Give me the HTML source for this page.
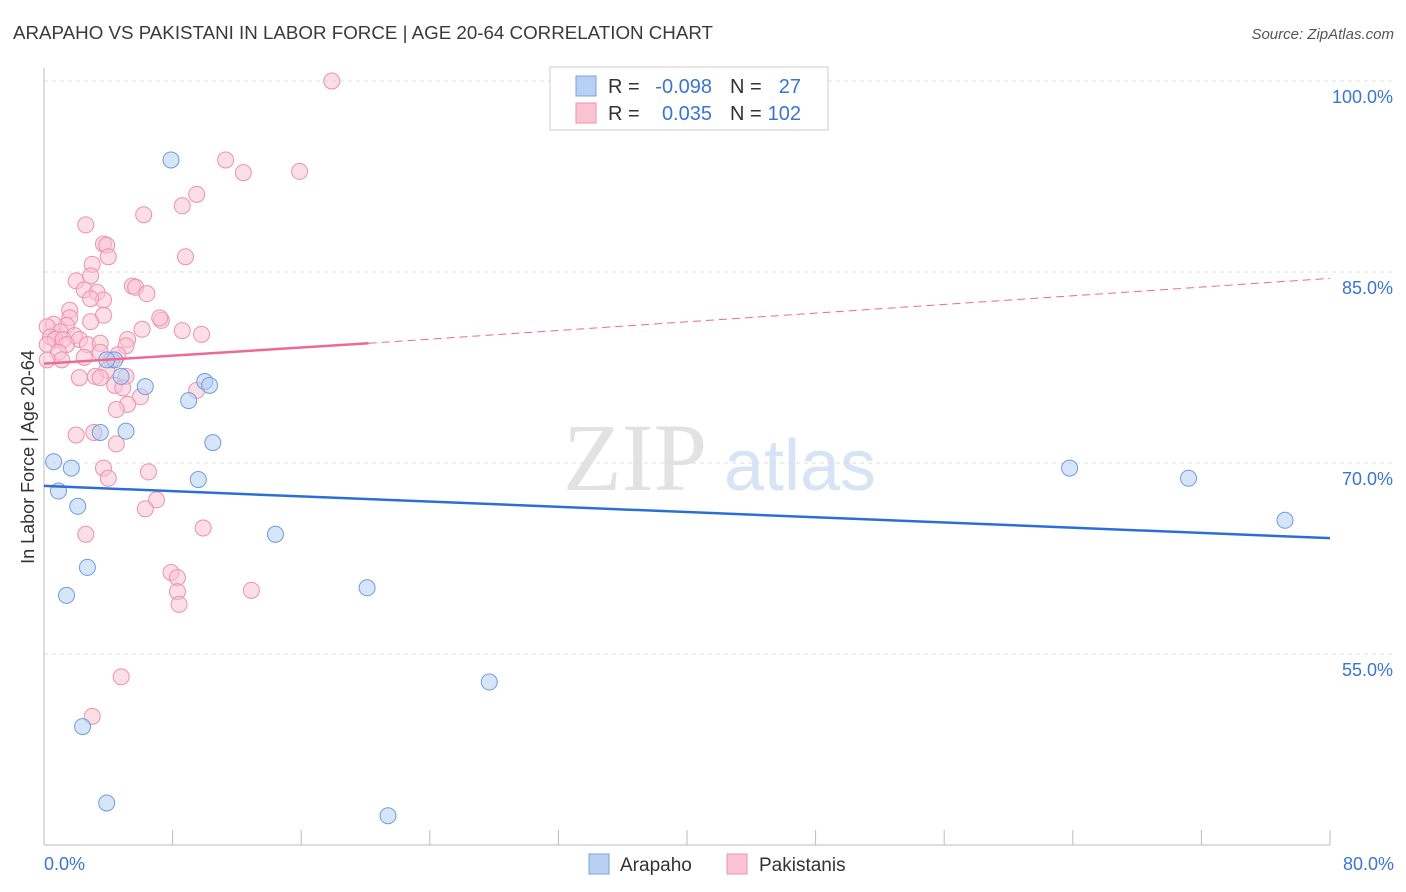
<!DOCTYPE html>
<html><head><meta charset="utf-8"><style>
body{margin:0;background:#fff;font-family:"Liberation Sans",sans-serif;}
svg{display:block}
</style></head><body>
<svg id="chart" width="1406" height="892" xmlns="http://www.w3.org/2000/svg">
<text x="13" y="39" font-size="18" fill="#3a3a3a" textLength="700" lengthAdjust="spacingAndGlyphs">ARAPAHO VS PAKISTANI IN LABOR FORCE | AGE 20-64 CORRELATION CHART</text>
<text x="1394" y="39" font-size="15" fill="#555" font-style="italic" text-anchor="end">Source: ZipAtlas.com</text>
<g>
<text x="635" y="490" font-size="96" fill="#e2e2e2" font-family="Liberation Serif,serif" text-anchor="middle">ZIP</text>
<text x="800" y="490" font-size="72" fill="#d6e4f5" text-anchor="middle">atlas</text>
</g>
<g id="grid"></g>
<g id="axes"></g>
<g id="marks"></g>
<text transform="translate(34,457) rotate(-90)" font-size="18" fill="#333" text-anchor="middle">In Labor Force | Age 20-64</text>
<text x="44" y="870" font-size="18" fill="#3a75d0">0.0%</text>
<text x="1394" y="870" font-size="18" fill="#3a75d0" text-anchor="end">80.0%</text>
<g font-size="20">
<rect x="550" y="67" width="278" height="63" fill="#fff" stroke="#ccc"/>
<rect x="576" y="76" width="20" height="20" fill="#b7d0f3" stroke="#7aa3e0"/>
<rect x="576" y="103" width="20" height="20" fill="#f9c3d3" stroke="#ef92af"/>
<text x="608" y="93" fill="#333">R =</text>
<text x="712" y="93" fill="#3a75d0" text-anchor="end">-0.098</text>
<text x="730" y="93" fill="#333">N =</text>
<text x="801" y="93" fill="#3a75d0" text-anchor="end">27</text>
<text x="608" y="120" fill="#333">R =</text>
<text x="712" y="120" fill="#3a75d0" text-anchor="end">0.035</text>
<text x="730" y="120" fill="#333">N =</text>
<text x="801" y="120" fill="#3a75d0" text-anchor="end">102</text>
</g>
<g>
<rect x="589" y="854" width="20" height="20" fill="#b7d0f3" stroke="#7aa3e0"/>
<text x="620" y="871" font-size="19" fill="#333">Arapaho</text>
<rect x="727" y="854" width="20" height="20" fill="#f9c3d3" stroke="#ef92af"/>
<text x="759" y="871" font-size="19" fill="#333">Pakistanis</text>
</g>
</svg>
<script>
const yTicks=[100,85,70,55];
const xTickCount=10;
const blueX=[7.9,0.6,0.9,1.7,2.1,2.7,1.4,2.4,3.9,3.5,5.1,4.4,4.8,6.3,9.0,10.0,10.3,10.5,9.6,14.4,20.1,27.7,21.4,63.8,71.2,77.2,3.9];
const blueY=[93.8,70.1,67.8,69.6,66.6,61.8,59.6,49.3,43.3,72.4,72.5,78.1,76.8,76.0,74.9,76.4,76.1,71.6,68.7,64.4,60.2,52.8,42.3,69.6,68.8,65.5,78.1];
const pinkX=[17.9,11.3,12.4,15.9,9.5,8.6,6.2,2.6,3.7,3.9,4.0,8.8,3.0,2.0,2.9,5.5,5.7,6.4,2.5,3.3,3.7,2.9,1.6,3.7,1.6,7.3,7.2,2.9,1.4,0.6,0.2,6.1,8.6,9.8,1.0,1.9,0.4,0.7,1.2,2.2,5.2,2.7,3.5,5.1,1.4,0.2,3.5,0.9,4.6,2.5,1.1,0.2,4.2,3.9,3.2,2.2,3.5,5.1,4.4,4.9,9.5,6.0,5.2,4.5,2.0,3.1,4.5,3.7,6.5,4.0,7.0,6.3,9.9,2.6,7.9,8.3,8.3,12.9,8.4,4.8,3.0];
const pinkY=[100.0,93.8,92.8,92.9,91.1,90.2,89.5,88.7,87.2,87.1,86.2,86.2,85.6,84.3,84.7,83.9,83.8,83.3,83.6,83.4,82.8,82.9,82.0,81.6,81.4,81.2,81.4,81.1,80.8,80.9,80.7,80.5,80.4,80.1,80.3,80.0,79.9,79.7,79.7,79.7,79.7,79.3,79.4,79.2,79.3,79.3,78.7,78.7,78.5,78.3,78.1,78.1,78.1,77.3,76.8,76.7,76.7,76.8,76.1,75.9,75.7,75.2,74.6,74.2,72.2,72.4,71.5,69.6,69.3,68.8,67.1,66.4,64.9,64.4,61.4,61.0,59.9,60.0,58.9,53.2,50.1];
const blueTrend=[68.2,64.1];
const pinkTrend=[77.8,79.4,84.5];
const pinkSolidEnd=20.2;
const NS="http://www.w3.org/2000/svg";
const X=v=>44+v/80*1286;
const Y=v=>81+(100-v)/15*191;
function mk(tag,attrs,parent){const e=document.createElementNS(NS,tag);for(const k in attrs)e.setAttribute(k,attrs[k]);parent.appendChild(e);return e;}
const grid=document.getElementById('grid'),axes=document.getElementById('axes'),marks=document.getElementById('marks');
yTicks.forEach(t=>{
 const l=mk('line',{x1:44,x2:1394,y1:Y(t),y2:Y(t),stroke:'#ddd','stroke-dasharray':'4,4'},grid);
 
 
 const tx=mk('text',{x:1393,y:Y(t)+22,'font-size':18,fill:'#3a75d0','text-anchor':'end'},grid);
 tx.textContent=t.toFixed(1)+'%';
 
 
});
const ax=mk('line',{x1:44,x2:44,y1:68,y2:845,stroke:'#bbb'},axes);


const bx=mk('line',{x1:44,x2:1330,y1:845,y2:845,stroke:'#bbb'},axes);


for(let i=0;i<=xTickCount;i++){
 const t=mk('line',{x1:X(i*8),x2:X(i*8),y1:830,y2:845,stroke:'#bbb'},axes);
 
 
}
function dot(x,y,fill,stroke,name){
 const c=mk('circle',{cx:X(x),cy:Y(y),r:8,fill:fill,'fill-opacity':0.55,stroke:stroke,'stroke-width':1},marks);
 
 
}
pinkX.forEach((x,i)=>dot(x,pinkY[i],'#f9c3d3','#ee8fae','pakistani-point'));
blueX.forEach((x,i)=>dot(x,blueY[i],'#b7d0f3','#6c9ddf','arapaho-point'));
const bl=mk('line',{x1:X(0),y1:Y(blueTrend[0]),x2:X(80),y2:Y(blueTrend[1]),stroke:'#2b6fd6','stroke-width':2.5},marks);


const pl=mk('line',{x1:X(0),y1:Y(pinkTrend[0]),x2:X(pinkSolidEnd),y2:Y(pinkTrend[1]),stroke:'#ec6a93','stroke-width':2.5},marks);


const pd=mk('line',{x1:X(pinkSolidEnd),y1:Y(pinkTrend[1]),x2:X(80),y2:Y(pinkTrend[2]),stroke:'#ec6a93','stroke-width':1,'stroke-dasharray':'8,5'},marks);


</script>
</body></html>
